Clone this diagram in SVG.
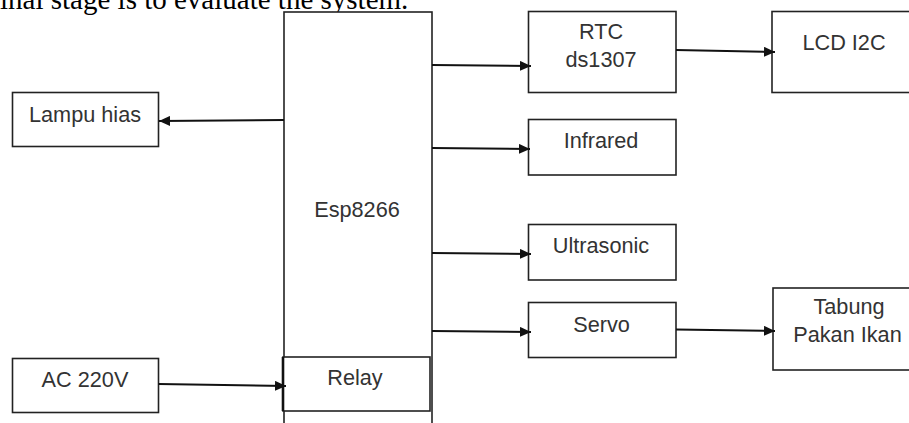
<svg xmlns="http://www.w3.org/2000/svg" width="909" height="423" viewBox="0 0 909 423">
<style>
.box{fill:#fff;stroke:#222;stroke-width:1.6}
.lbl{font-family:"Liberation Sans",Arial,sans-serif;font-size:21.7px;fill:#333;text-anchor:middle}
.cap{font-family:"Liberation Serif","Times New Roman",serif;font-size:29px;fill:#000}
.conn{stroke:#111;stroke-width:2;fill:none;marker-end:url(#ah)}
</style>
<defs>
<marker id="ah" markerUnits="userSpaceOnUse" markerWidth="12" markerHeight="10" refX="11" refY="5" orient="auto">
<path d="M0,0 L11,5 L0,10 Z" fill="#111"/>
</marker>
</defs>
<rect width="909" height="423" fill="#fff"/>
<text class="cap" x="0" y="9">inal stage is to evaluate the system.</text>
<g id="esp8266">
<rect class="box" x="284" y="12" width="148" height="430"/>
<text class="lbl" x="357" y="217">Esp8266</text>
</g>
<g id="relay">
<rect class="box" x="283" y="357" width="147" height="54"/>
<line x1="283" y1="357" x2="283" y2="411" stroke="#111" stroke-width="2.6"/>
<text class="lbl" x="355" y="385">Relay</text>
</g>
<g id="lampu">
<rect class="box" x="12.5" y="92.5" width="146" height="54"/>
<text class="lbl" x="85" y="122">Lampu hias</text>
</g>
<g id="ac">
<rect class="box" x="12.5" y="358.5" width="146" height="54"/>
<text class="lbl" x="85" y="387">AC 220V</text>
</g>
<g id="rtc">
<rect class="box" x="528.5" y="11.5" width="147.5" height="81"/>
<text class="lbl" x="601" y="39">RTC</text>
<text class="lbl" x="601" y="66.5">ds1307</text>
</g>
<g id="lcd">
<rect class="box" x="772" y="11.5" width="150" height="81"/>
<text class="lbl" x="844" y="50">LCD I2C</text>
</g>
<g id="infrared">
<rect class="box" x="528.5" y="119.5" width="147.5" height="55.5"/>
<text class="lbl" x="601" y="147.5">Infrared</text>
</g>
<g id="ultrasonic">
<rect class="box" x="528.5" y="224.5" width="147.5" height="55.5"/>
<text class="lbl" x="601" y="253">Ultrasonic</text>
</g>
<g id="servo">
<rect class="box" x="528.5" y="302.5" width="147.5" height="55"/>
<text class="lbl" x="601.5" y="331.5">Servo</text>
</g>
<g id="tabung">
<rect class="box" x="773" y="288" width="150" height="82"/>
<text class="lbl" x="849" y="314">Tabung</text>
<text class="lbl" x="847.5" y="342">Pakan Ikan</text>
</g>
<g id="connectors">
<path class="conn" d="M284,120 L159,121"/>
<path class="conn" d="M158.5,384 L286,386"/>
<path class="conn" d="M432,65 L531,66"/>
<path class="conn" d="M676,50 L775,52"/>
<path class="conn" d="M432,148 L530,149"/>
<path class="conn" d="M432,253 L531,254"/>
<path class="conn" d="M432,331 L531,332"/>
<path class="conn" d="M676,329.5 L775,331"/>
</g>
</svg>
